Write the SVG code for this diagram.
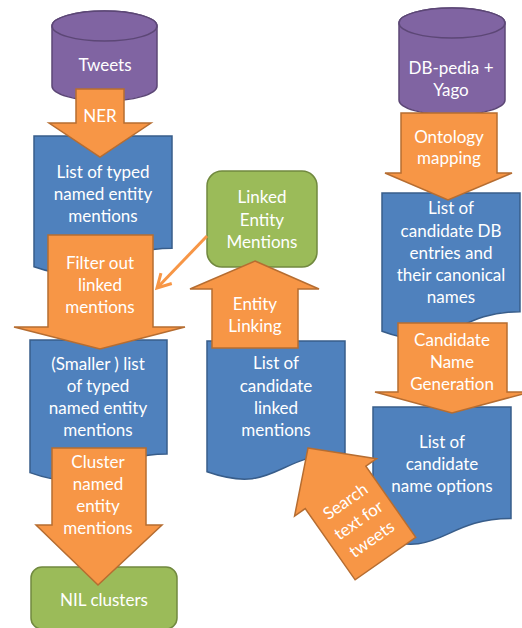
<svg xmlns="http://www.w3.org/2000/svg" width="522" height="628" viewBox="0 0 522 628">
<defs>
<style>
.cyl{fill:#8064A2;stroke:#5C4776;stroke-width:1.5}
.doc{fill:#4F81BD;stroke:#385D8A;stroke-width:1.5}
.grn{fill:#9BBB59;stroke:#71893F;stroke-width:1.5}
.arr{fill:#F79646;stroke:#B66D31;stroke-width:1.5;stroke-linejoin:miter}
.t{font-family:Lato,"Liberation Sans",sans-serif;font-size:17px;fill:#FFFFFF;text-anchor:middle}
.con{stroke:#F79646;stroke-width:3;fill:none}
</style>
<marker id="open" viewBox="0 0 12 12" refX="10" refY="6" markerWidth="6" markerHeight="6" orient="auto" markerUnits="strokeWidth">
<path d="M1,1 L10,6 L1,11" fill="none" stroke="#F79646" stroke-width="2"/>
</marker>
</defs>
<rect width="522" height="628" fill="#FFFFFF"/>

<g id="tweets">
<path class="cyl" d="M52,26 A52.5,15 0 0 1 157,26 V86 A52.5,15 0 0 1 52,86 Z"/>
<ellipse class="cyl" cx="104.5" cy="26" rx="52.5" ry="15"/>
<text class="t" x="105" y="71">Tweets</text>
</g>

<g id="dbpedia">
<path class="cyl" d="M399,23 A53,15 0 0 1 505,23 V100 A53,15 0 0 1 399,100 Z"/>
<ellipse class="cyl" cx="452" cy="23" rx="53" ry="15"/>
<text class="t" x="451" y="74">DB-pedia +</text>
<text class="t" x="451" y="96">Yago</text>
</g>

<g id="box1">
<path class="doc" d="M34,136 H172 V248.3 C103,248.3 103,290.9 34,266.8 Z"/>
<text class="t" x="103" y="178">List of typed</text>
<text class="t" x="103" y="200">named entity</text>
<text class="t" x="103" y="222">mentions</text>
</g>

<g id="box2">
<path class="doc" d="M30,340 H167 V453.9 C98.5,453.9 98.5,497.2 30,472.6 Z"/>
<text class="t" x="98" y="370">(Smaller ) list</text>
<text class="t" x="98" y="392">of typed</text>
<text class="t" x="98" y="414">named entity</text>
<text class="t" x="98" y="436">mentions</text>
</g>

<g id="box3">
<path class="doc" d="M207,341 H345 V453.3 C276,453.3 276,495.9 207,471.8 Z"/>
<text class="t" x="276" y="369">List of</text>
<text class="t" x="276" y="392">candidate</text>
<text class="t" x="276" y="414">linked</text>
<text class="t" x="276" y="436">mentions</text>
</g>

<g id="box4">
<path class="doc" d="M382,193 H520 V311.7 C451,311.7 451,356.8 382,331.2 Z"/>
<text class="t" x="451" y="214">List of</text>
<text class="t" x="451" y="237">candidate DB</text>
<text class="t" x="451" y="259">entries and</text>
<text class="t" x="451" y="281">their canonical</text>
<text class="t" x="451" y="303">names</text>
</g>

<g id="box5">
<path class="doc" d="M373,407 H511 V518.5 C442,518.5 442,560.9 373,536.8 Z"/>
<text class="t" x="442" y="448">List of</text>
<text class="t" x="442" y="470">candidate</text>
<text class="t" x="442" y="492">name options</text>
</g>

<g id="linked">
<rect class="grn" x="207" y="171" width="110" height="96" rx="15" ry="15"/>
<text class="t" x="262" y="203">Linked</text>
<text class="t" x="262" y="226">Entity</text>
<text class="t" x="262" y="248">Mentions</text>
</g>

<g id="nil">
<rect class="grn" x="31" y="567" width="146" height="62" rx="11" ry="11"/>
<text class="t" x="104" y="606">NIL clusters</text>
</g>

<g id="ner">
<polygon class="arr" points="76,89 124,89 124,123 151,123 100,157 49,123 76,123"/>
<text class="t" x="100" y="122">NER</text>
</g>

<g id="filter">
<polygon class="arr" points="48,235 153,235 153,327 185,327 100,349 14,327 48,327"/>
<text class="t" x="100" y="269">Filter out</text>
<text class="t" x="100" y="291">linked</text>
<text class="t" x="100" y="313">mentions</text>
</g>

<g id="cluster">
<polygon class="arr" points="52,448 146,448 146,525 162,525 98,585 36,525 52,525"/>
<text class="t" x="98" y="468">Cluster</text>
<text class="t" x="98" y="490">named</text>
<text class="t" x="98" y="512">entity</text>
<text class="t" x="98" y="534">mentions</text>
</g>

<g id="ontology">
<polygon class="arr" points="401,113 497,113 497,173 512,173 448,200 385,173 401,173"/>
<text class="t" x="449" y="143">Ontology</text>
<text class="t" x="449" y="164">mapping</text>
</g>

<g id="candgen">
<polygon class="arr" points="398,323 507,323 507,392 530,392 452,413 375,392 398,392"/>
<text class="t" x="452" y="346">Candidate</text>
<text class="t" x="452" y="368">Name</text>
<text class="t" x="452" y="390">Generation</text>
</g>

<g id="entitylinking">
<polygon class="arr" points="255,261 319,289 298,289 298,348 212,348 212,289 190,289"/>
<text class="t" x="255" y="310">Entity</text>
<text class="t" x="255" y="332">Linking</text>
</g>

<g id="search" transform="translate(308,448) rotate(-35)">
<polygon class="arr" points="0,0 50,48 37,48 37,135 -37,135 -37,48 -50,48"/>
<text class="t" x="0" y="71">Search</text>
<text class="t" x="0" y="94">text for</text>
<text class="t" x="0" y="117">tweets</text>
</g>

<g id="connectors">
<line class="con" x1="207" y1="236" x2="157" y2="288" marker-end="url(#open)"/>
</g>
</svg>
